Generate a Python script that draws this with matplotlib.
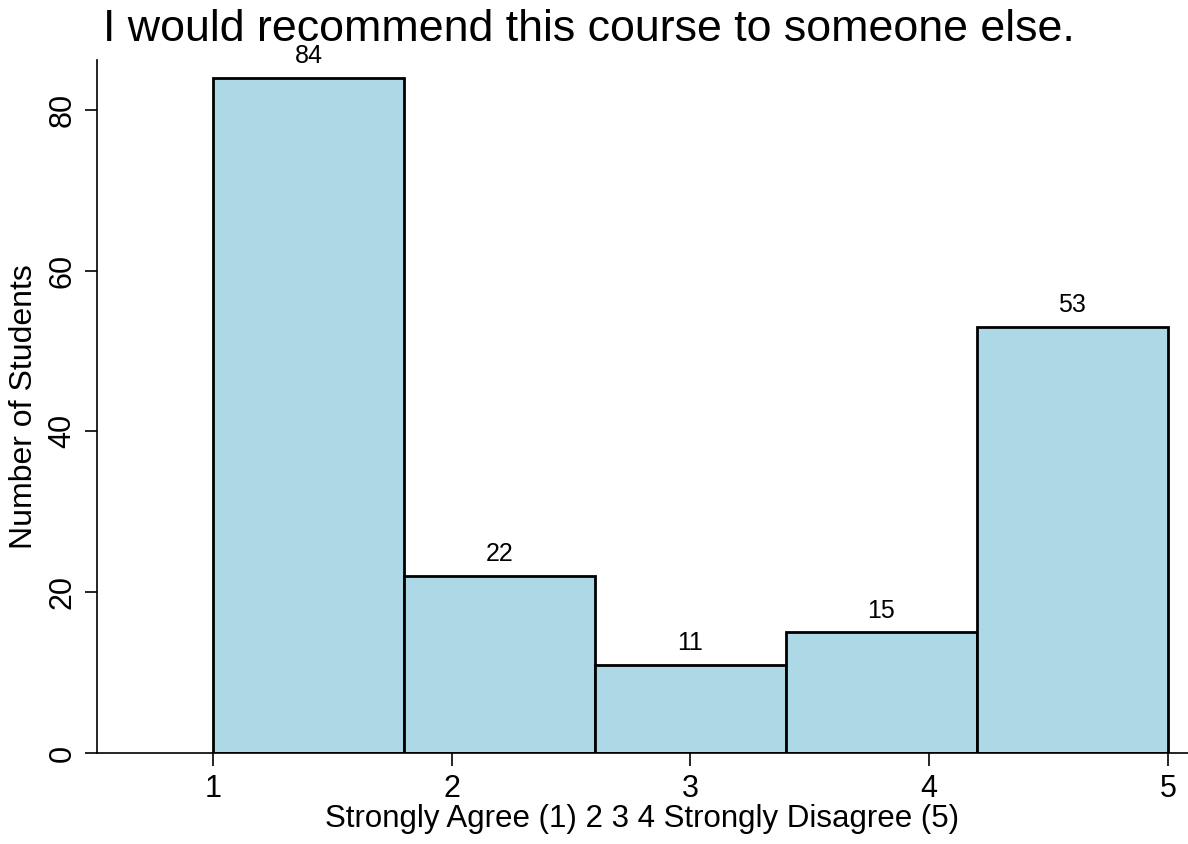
import matplotlib
matplotlib.use("Agg")
import matplotlib.pyplot as plt

bin_edges = [1.0, 1.8, 2.6, 3.4, 4.2, 5.0]
counts = [84, 22, 11, 15, 53]
x_ticks = [1, 2, 3, 4, 5]
y_ticks = [0, 20, 40, 60, 80]
title = "I would recommend this course to someone else."
xlabel = "Strongly Agree (1) 2 3 4 Strongly Disagree (5)"
ylabel = "Number of Students"

plt.rcParams['font.family'] = ['Liberation Sans', 'DejaVu Sans']

fig = plt.figure(figsize=(11.88, 8.44), dpi=100)
ax = fig.add_axes([97/1188, 1-753/844, 1-97/1188, (753-60)/844])

lefts = bin_edges[:-1]
widths = [b - a for a, b in zip(bin_edges[:-1], bin_edges[1:])]
bars = ax.bar(lefts, counts, width=widths, align='edge', color='#add8e6',
              edgecolor='black', linewidth=2.0, zorder=2)
for l, w, c in zip(lefts, widths, counts):
    ax.annotate(str(c), (l + w/2, c), xytext=(0, 7), textcoords='offset points',
                ha='center', va='bottom', fontsize=18)

ax.set_xlim(0.514, 5.084)
ax.set_ylim(0, 86.2)
ax.set_xticks(x_ticks)
ax.set_yticks(y_ticks)
ax.tick_params(axis='both', length=9, width=1.2, labelsize=22, pad=6)
ax.tick_params(axis='y', pad=5)
for lab in ax.get_yticklabels():
    lab.set_rotation(90)
    lab.set_va('center')
ax.spines['top'].set_visible(False)
ax.spines['right'].set_visible(False)
ax.spines['left'].set_linewidth(1.2)
ax.spines['bottom'].set_linewidth(1.2)
ax.set_xlabel(xlabel, fontsize=22.5, labelpad=0)
ax.set_ylabel(ylabel, fontsize=23, labelpad=6)
fig.text(103/1188, 1-41/844, title, fontsize=32.2, ha='left', va='baseline')

fig.savefig("out.png", dpi=100)
